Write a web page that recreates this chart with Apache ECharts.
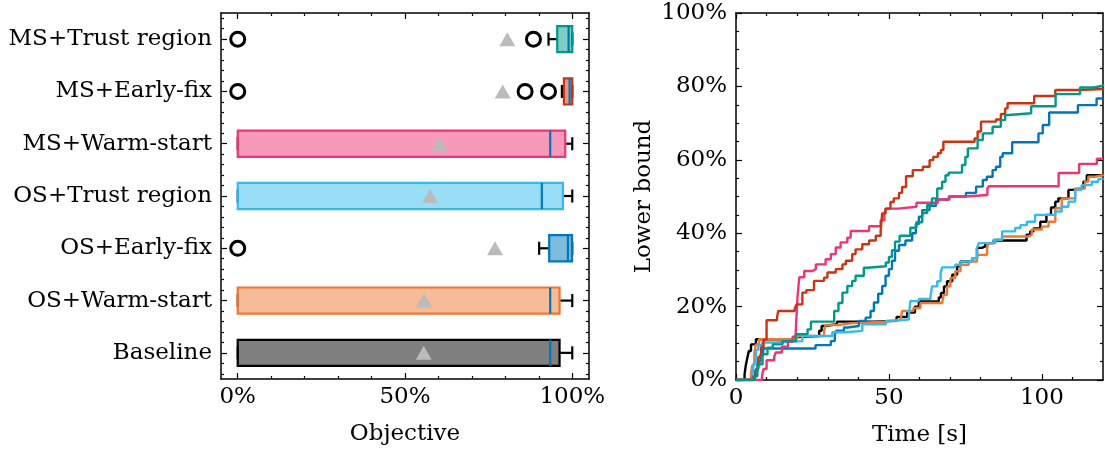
<!DOCTYPE html>
<html>
<head>
<meta charset="utf-8">
<script src="https://cdn.jsdelivr.net/npm/echarts@6/dist/echarts.min.js"></script>
<style>
  html, body { margin: 0; padding: 0; background: #fff; }
  #chart { width: 1105px; height: 452px; }
</style>
</head>
<body>
<div id="chart"></div>
<script>
// ---- box plot data (objective, %) ----
const categories = ['MS+Trust region', 'MS+Early-fix', 'MS+Warm-start', 'OS+Trust region', 'OS+Early-fix', 'OS+Warm-start', 'Baseline'];
const boxColors = ['#009988', '#CC3311', '#EE3377', '#33BBEE', '#0077BB', '#EE7733', '#000000'];
const whiskerLow = [92.9, 96.9, 0, 0, 90.1, 0, 0];
const quart1 = [95.5, 97.5, 0, 0, 93.1, 0, 0];
const medians = [98.9, 99.2, 93.4, 90.9, 98.7, 93.4, 93.4];
const quart3 = [100, 100, 97.9, 97.2, 99.9, 96.2, 96.2];
const whiskerHigh = [100, 100, 100, 100, 100, 100, 100];
const means = [80.6, 79.2, 60.3, 57.5, 76.9, 55.7, 55.6];
// outliers: [objective, category name]
const fliers = [[0, 'MS+Trust region'], [88.4, 'MS+Trust region'], [0, 'MS+Early-fix'], [85.9, 'MS+Early-fix'], [92.9, 'MS+Early-fix'], [0, 'OS+Early-fix']];

// ---- lower bound over time (step curves) ----
const lineNames = ['Baseline', 'OS+Warm-start', 'OS+Early-fix', 'OS+Trust region', 'MS+Warm-start', 'MS+Early-fix', 'MS+Trust region'];
const lineColors = ['#000000', '#EE7733', '#0077BB', '#33BBEE', '#EE3377', '#CC3311', '#009988'];
const baseline = [[0,0],[2.8,1.5],[3.2,4],[3.7,6],[4.2,7.9],[4.9,9.7],[6.5,11.1],[19,11.7],[20.5,12],[27.2,13.4],[28,14.7],[29,15.2],[33,15.9],[45,16.1],[52.5,17.2],[56,18.4],[58.5,20],[59.8,21.4],[66.3,22.5],[67,23.7],[68,25.5],[69,26.9],[70.7,28.7],[72.3,31],[73.4,32.3],[77.2,33.2],[78.8,36],[80.4,36.4],[81.5,37.3],[84.2,38],[95,39.6],[96.2,40.5],[97.3,41.3],[99.5,43.1],[101.5,45],[103,47],[104.4,48.6],[105.4,49.5],[108.7,51.8],[109.8,52.2],[113.6,54],[114.7,55.8],[120,55.8]];
const osWarm = [[0,0],[4.9,1.5],[5.3,4],[6,7.5],[6.5,9.7],[7.5,11.1],[19,11.4],[20.1,12],[28.8,13.4],[29.3,15],[33.7,15.5],[38,15.9],[49,16.3],[53.8,16.8],[54.3,18.8],[58,19.6],[60.3,21],[67.4,21.5],[67.9,23.2],[69,25.5],[70.1,27.8],[71.7,29.6],[73.4,31.4],[76.1,32.3],[78.8,34.1],[82.1,36],[82.6,37.3],[84.8,38.2],[87,39.1],[95.7,39.6],[96.7,41],[100,41.8],[102.2,43.1],[104.4,46.8],[106.5,49.5],[110.9,52.2],[114.1,54],[115.2,55.4],[117.4,55.8],[120,56]];
const osEarly = [[0,0],[5.5,1],[6.2,2.5],[7,5],[8,7],[8.9,8.6],[26,9.5],[31,10.6],[32.3,12.5],[32.8,13.4],[35.3,14.3],[36.4,14.7],[40.2,16.1],[42.4,17],[44,18.8],[45.1,21.1],[46.5,23.5],[47.8,25.6],[48.9,28.4],[50,30.2],[51,32.5],[52,35.2],[53.3,36.8],[55.4,38],[57.6,40],[58.8,42.5],[59.8,44.5],[60.9,46.3],[63.3,47.5],[65.4,49.2],[69.6,50],[75.2,51],[78.5,52.7],[80.7,54.5],[82,55.4],[83.9,57.2],[85,58.1],[86.4,60.8],[87.2,61.8],[90.3,64.8],[98.9,67.2],[100.3,69.5],[102.4,72.9],[111.8,74.9],[117.9,76.7],[120,76.8]];
const osTrust = [[0,0],[5.4,1.5],[5.8,4.5],[6.5,8.2],[7.3,9.5],[8.5,10.2],[13,10.6],[21.7,12],[31.5,13],[36,13.4],[41.3,15.2],[49,16.1],[49.5,16.5],[56.5,17.2],[57,21.5],[59.8,22.1],[63.6,22.8],[64.1,25.5],[65.8,26.9],[66.9,29.1],[67.4,30.7],[71.7,31.4],[73.4,32.3],[77.2,33.2],[78.8,36],[79.4,37.3],[84.2,38.2],[87,40.5],[91.3,41.4],[93,42.2],[95.1,43.1],[97.8,45],[104.4,45.9],[106.5,47.2],[108.7,48.6],[110.9,51.8],[113,53.1],[116.3,54],[118.5,54.8],[120,55]];
const msWarm = [[0,0],[8.5,1],[9,3],[10,5.4],[12.5,6.3],[13,7.5],[15,9.1],[17,10.4],[18.5,11.8],[19.5,12.7],[20.1,22.5],[20.7,28],[22.3,29.7],[25,30.2],[26.1,31.5],[29.3,32.9],[31,34.3],[32.6,36.1],[34.2,37.5],[36.4,38.8],[37.5,40.6],[43.5,41.9],[47.3,43.5],[48.5,45.4],[49,46.7],[53,47.2],[59,48.3],[66,49.2],[69.8,50],[75,50.4],[82.2,52.2],[82.7,52.8],[105.5,56.4],[112.2,58.9],[118,60.3],[120,60.3]];
const msEarly = [[0,0],[5.7,1],[6.5,3],[7.3,6.3],[8.2,9],[9,11],[10,16.3],[13.4,17],[13.8,18.8],[19.2,19.5],[19.8,20.6],[21.7,23.8],[23,24.5],[25.5,27],[28.8,27.9],[29.9,29.3],[32.6,30.2],[34.8,31.5],[35.9,32.5],[38,34.3],[39.1,35.6],[41.3,37],[43.5,38],[45.7,39.3],[47.3,40.6],[47.8,45.4],[48.9,46.7],[50.5,48.5],[51.6,49.5],[53.3,51],[54.3,52.6],[55.6,55.5],[57.8,57.2],[61.1,58.1],[63.3,59.9],[64.5,60.8],[66,61.8],[67,62.7],[67.8,64.9],[78,65.8],[79,67.7],[80.1,70.4],[85,71],[86.6,72.5],[88,74],[88.8,75.4],[97.5,77.4],[104.4,79],[112,79.3],[120,79.5]];
const msTrust = [[0,0],[6.2,1],[7,3],[7.6,4.3],[8.7,7],[10.3,8.8],[12,9.7],[15.2,10.6],[19.6,12.5],[23.4,13.8],[24.5,15.9],[32.1,18.8],[33.5,21],[34.8,23.8],[36.4,25.6],[38,27],[39.1,28.4],[41.8,30.6],[43,31],[49,32],[50,33.5],[51,35.4],[52,37.7],[53.5,39.3],[57,41.5],[59,43],[60.9,45.5],[62.5,47.7],[64.1,49.5],[65.8,52.2],[67.4,54],[68.5,55.8],[69.5,56.5],[73.9,58.6],[75,60.8],[75.8,63.1],[79,65.4],[80.7,67.2],[83.9,69],[86.6,70.8],[88,72.2],[89.3,72.7],[96.5,74.6],[104.5,77.9],[112.5,79.7],[117,80.2],[120,80.6]];
const lineData = [baseline, osWarm, osEarly, osTrust, msWarm, msEarly, msTrust];

// tick positions
const objMajor = [0, 50, 100];
const objMinor = [10, 20, 30, 40, 60, 70, 80, 90];
const catMajor = [1, 2, 3, 4, 5, 6, 7];
const catMinor = [];
for (let i = 3; i <= 37; i++) if (i % 5 !== 0) catMinor.push(i / 5);
const timeMajor = [0, 50, 100];
const timeMinor = [10, 20, 30, 40, 60, 70, 80, 90, 110];
const lbMajor = [0, 20, 40, 60, 80, 100];
const lbMinor = [];
for (let v = 5; v < 100; v += 5) if (v % 20 !== 0) lbMinor.push(v);

const FONT = 'DejaVu Serif';
const FS = 23;

// matplotlib-like frame: ticks inside on all four sides, labels only on bottom/left
function frameAxes(dim, grid, min, max, majors, minors, fmt, extra) {
  const pos = dim === 'x' ? ['bottom', 'top'] : ['left', 'right'];
  const out = [];
  pos.forEach((p, side) => {
    [true, false].forEach(major => {
      const ax = {
        type: 'value', gridIndex: grid, position: p, min: min, max: max,
        inverse: !!(extra && extra.inverse),
        axisLine: { show: major, onZero: false, lineStyle: { color: '#000', width: 1.5 } },
        axisTick: { show: true, inside: true, length: major ? 6 : 3,
          customValues: major ? majors : minors, lineStyle: { color: '#000', width: 1.2 } },
        axisLabel: { show: major && side === 0, customValues: majors, formatter: fmt,
          color: '#000', fontFamily: FONT, fontSize: FS, margin: dim === 'x' ? 7 : 9 },
        splitLine: { show: false }
      };
      if (major && side === 0 && extra && extra.name) {
        ax.name = extra.name;
        ax.nameLocation = 'middle';
        ax.nameGap = extra.nameGap;
        ax.nameTextStyle = { color: '#000', fontFamily: FONT, fontSize: FS };
      }
      out.push(ax);
    });
  });
  return out;
}

const chart = echarts.init(document.getElementById('chart'));

const boxData = categories.map((c, i) => [i + 1, whiskerLow[i], quart1[i], medians[i], quart3[i], whiskerHigh[i]]);

function renderBox(params, api) {
  const i = params.dataIndex;
  const pos = api.value(0);
  const lw = api.value(1), q1 = api.value(2), md = api.value(3), q3 = api.value(4), hw = api.value(5);
  const unit = Math.abs(api.size([0, 1])[1]);
  const yc = api.coord([0, pos])[1];
  const x = v => api.coord([v, pos])[0];
  const col = boxColors[i];
  const black = { stroke: '#000', lineWidth: 2.2 };
  const half = unit * 0.25, cap = unit * 0.125;
  return {
    type: 'group',
    children: [
      { type: 'line', shape: { x1: x(lw), y1: yc, x2: x(q1), y2: yc }, style: black },
      { type: 'line', shape: { x1: x(q3), y1: yc, x2: x(hw), y2: yc }, style: black },
      { type: 'line', shape: { x1: x(lw), y1: yc - cap, x2: x(lw), y2: yc + cap }, style: black },
      { type: 'line', shape: { x1: x(hw), y1: yc - cap, x2: x(hw), y2: yc + cap }, style: black },
      { type: 'rect', shape: { x: x(q1), y: yc - half, width: x(q3) - x(q1), height: 2 * half },
        style: { fill: echarts.color.modifyAlpha(col, 0.5), stroke: col, lineWidth: 2.2 } },
      { type: 'line', shape: { x1: x(md), y1: yc - half, x2: x(md), y2: yc + half },
        style: { stroke: '#0077BB', lineWidth: 2.2 } }
    ]
  };
}

const series = [
  {
    type: 'custom', xAxisIndex: 0, yAxisIndex: 0, renderItem: renderBox,
    encode: { x: [1, 2, 3, 4, 5], y: 0 }, data: boxData, clip: false
  },
  {
    type: 'scatter', xAxisIndex: 0, yAxisIndex: 0, symbol: 'circle', symbolSize: 14,
    itemStyle: { color: 'rgba(0,0,0,0)', borderColor: '#000', borderWidth: 3, opacity: 1 },
    data: fliers.map(f => [f[0], categories.indexOf(f[1]) + 1])
  },
  {
    type: 'scatter', xAxisIndex: 0, yAxisIndex: 0, symbol: 'triangle', symbolSize: [16, 14],
    itemStyle: { color: '#BBBBBB', opacity: 1 },
    data: means.map((m, i) => [m, i + 1])
  }
];
lineData.forEach((d, i) => {
  series.push({
    name: lineNames[i], type: 'line', step: 'end', xAxisIndex: 4, yAxisIndex: 4,
    showSymbol: false, symbol: 'none', data: d,
    lineStyle: { color: lineColors[i], width: 2.4 }, itemStyle: { color: lineColors[i] }
  });
});

chart.setOption({
  animation: false,
  backgroundColor: '#fff',
  grid: [
    { left: 221, top: 13, width: 368, height: 366, outerBoundsMode: 'none' },
    { left: 736, top: 13, width: 367, height: 367, outerBoundsMode: 'none' }
  ],
  xAxis: [
    ...frameAxes('x', 0, -5, 105, objMajor, objMinor, v => v + '%', { name: 'Objective', nameGap: 44 }),
    ...frameAxes('x', 1, 0, 120, timeMajor, timeMinor, v => String(v), { name: 'Time [s]', nameGap: 44 })
  ],
  yAxis: [
    ...frameAxes('y', 0, 0.5, 7.5, catMajor, catMinor, v => categories[Math.round(v) - 1] || '', { inverse: true }),
    ...frameAxes('y', 1, 0, 100, lbMajor, lbMinor, v => v + '%', { name: 'Lower bound', nameGap: 80 })
  ],
  series: series
});
</script>
</body>
</html>
